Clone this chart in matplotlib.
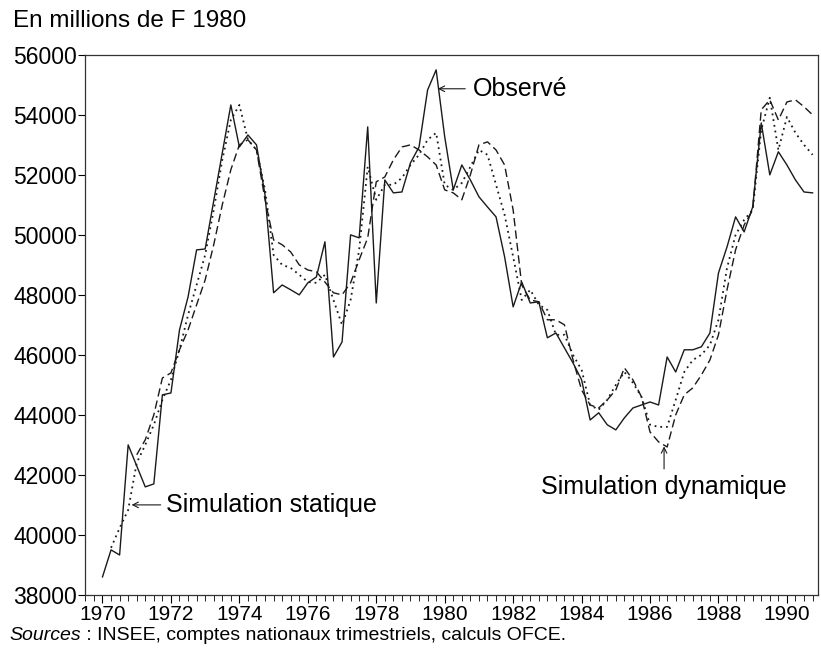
import numpy as np
import matplotlib
matplotlib.use("Agg")
import matplotlib.pyplot as plt
from matplotlib.ticker import MultipleLocator

plt.rcParams['font.family'] = ['Liberation Sans', 'DejaVu Sans']

# Quarterly series, 1970Q1 .. 1990Q4 (millions de F 1980)
start_year = 1970
observe = [
    38600, 39500, 39330, 43000, 42300, 41600, 41700, 44670, 44730, 46830,
    47930, 49500, 49530, 51130, 52730, 54330, 52930, 53330, 53000, 51330,
    48070, 48330, 48170, 48000, 48400, 48600, 49770, 45930, 46430, 50000,
    49900, 53600, 47730, 51830, 51400, 51430, 52400, 52930, 54830, 55500,
    53270, 51500, 52330, 51830, 51270, 50930, 50600, 49270, 47600, 48430,
    47730, 47770, 46570, 46730, 46230, 45730, 45170, 43830, 44070, 43670,
    43500, 43900, 44230, 44330, 44430, 44330, 45930, 45430, 46170, 46170,
    46270, 46730, 48730, 49600, 50600, 50100, 50930, 53730, 52000, 52770,
    52330, 51830, 51430, 51400,
]
sim_statique = [
    np.nan, 39570, 40230, 40830, 42400, 43000, 43670, 44500, 45170, 46170,
    47330, 48330, 49330, 50830, 52500, 53830, 54330, 53170, 52830, 51500,
    49330, 49000, 48900, 48670, 48430, 48400, 48670, 47830, 47000, 47830,
    49500, 52270, 51170, 51670, 51670, 51900, 52330, 52670, 53170, 53400,
    51670, 51500, 51730, 52270, 52830, 52670, 51670, 50670, 49270, 47830,
    48170, 47670, 47500, 46670, 46670, 46000, 45500, 44330, 44170, 44500,
    45000, 45430, 45070, 44600, 43670, 43600, 43600, 44500, 45430, 45830,
    46000, 46330, 47170, 48900, 50000, 50500, 50830, 53500, 54570, 52830,
    53930, 53400, 53000, 52670,
]
sim_dynamique = [
    np.nan, np.nan, np.nan, np.nan, 42670, 43170, 44000, 45230, 45400, 46170,
    46830, 47670, 48500, 49670, 51000, 52170, 53000, 53170, 52830, 51170,
    49830, 49670, 49430, 49000, 48830, 48770, 48430, 48070, 48000, 48400,
    49170, 49900, 51770, 51930, 52500, 52930, 53000, 52830, 52600, 52330,
    51500, 51400, 51170, 52000, 53000, 53100, 52830, 52330, 50830, 48330,
    47830, 47770, 47170, 47170, 47000, 45830, 44830, 44330, 44230, 44500,
    44830, 45570, 45170, 44600, 43430, 43100, 42930, 44000, 44670, 44900,
    45330, 45830, 46670, 48170, 49500, 50330, 50830, 54170, 54500, 53830,
    54430, 54500, 54270, 54000,
]
year_ticks = list(range(1970, 1991, 2))
value_ticks = list(range(38000, 56001, 2000))

dates = start_year + np.arange(len(observe)) / 4.0

fig = plt.figure(figsize=(8.21, 6.61), dpi=100)
ax = fig.add_axes([0.104, 0.10, 0.892, 0.817])

ink = '#1a1a1a'
ax.plot(dates, observe, color=ink, lw=1.0, ls='-')
ax.plot(dates, sim_statique, color=ink, lw=1.3, ls=(0, (1, 2.2)))
ax.plot(dates, sim_dynamique, color=ink, lw=1.0, ls=(0, (6, 3)))

ax.set_xlim(1969.5, 1990.9)
ax.set_ylim(38000, 56000)
ax.set_xticks(year_ticks)
ax.set_xticklabels([str(y) for y in year_ticks], fontsize=15)
ax.xaxis.set_minor_locator(MultipleLocator(0.25))
ax.set_yticks(value_ticks)
ax.set_yticklabels([str(v) for v in value_ticks], fontsize=16.5)
ax.tick_params(axis='x', which='major', direction='out', length=6, width=0.8, pad=1)
ax.tick_params(axis='x', which='minor', direction='out', length=4, width=0.6)
ax.tick_params(axis='y', direction='out', length=5, width=0.8, pad=1)
for s in ax.spines.values():
    s.set_color('#333333')
    s.set_linewidth(0.9)

# annotations
arrow = dict(arrowstyle='->', color=ink, lw=0.8, shrinkA=0, shrinkB=0)
ax.annotate('', xy=(1979.8, 54870), xytext=(1980.6, 54870), arrowprops=arrow)
ax.text(1980.82, 54870, 'Observé', fontsize=18, va='center', ha='left')

ax.annotate('', xy=(1970.85, 41000), xytext=(1971.7, 41000), arrowprops=arrow)
ax.text(1971.85, 41000, 'Simulation statique', fontsize=18, va='center', ha='left')

ax.annotate('', xy=(1986.41, 42950), xytext=(1986.41, 42200), arrowprops=arrow)
ax.text(1986.41, 41600, 'Simulation dynamique', fontsize=18, va='center', ha='center')

fig.text(0.016, 0.968, 'En millions de F 1980', fontsize=17.5, va='center', ha='left')

src = fig.text(0.012, 0.038, 'Sources', fontsize=14, style='italic', va='center', ha='left')
fig.canvas.draw()
bb = src.get_window_extent()
fig.text(bb.x1 / fig.bbox.width, 0.038, ' : INSEE, comptes nationaux trimestriels, calculs OFCE.',
         fontsize=14, va='center', ha='left')

fig.savefig('out.png', dpi=100)
